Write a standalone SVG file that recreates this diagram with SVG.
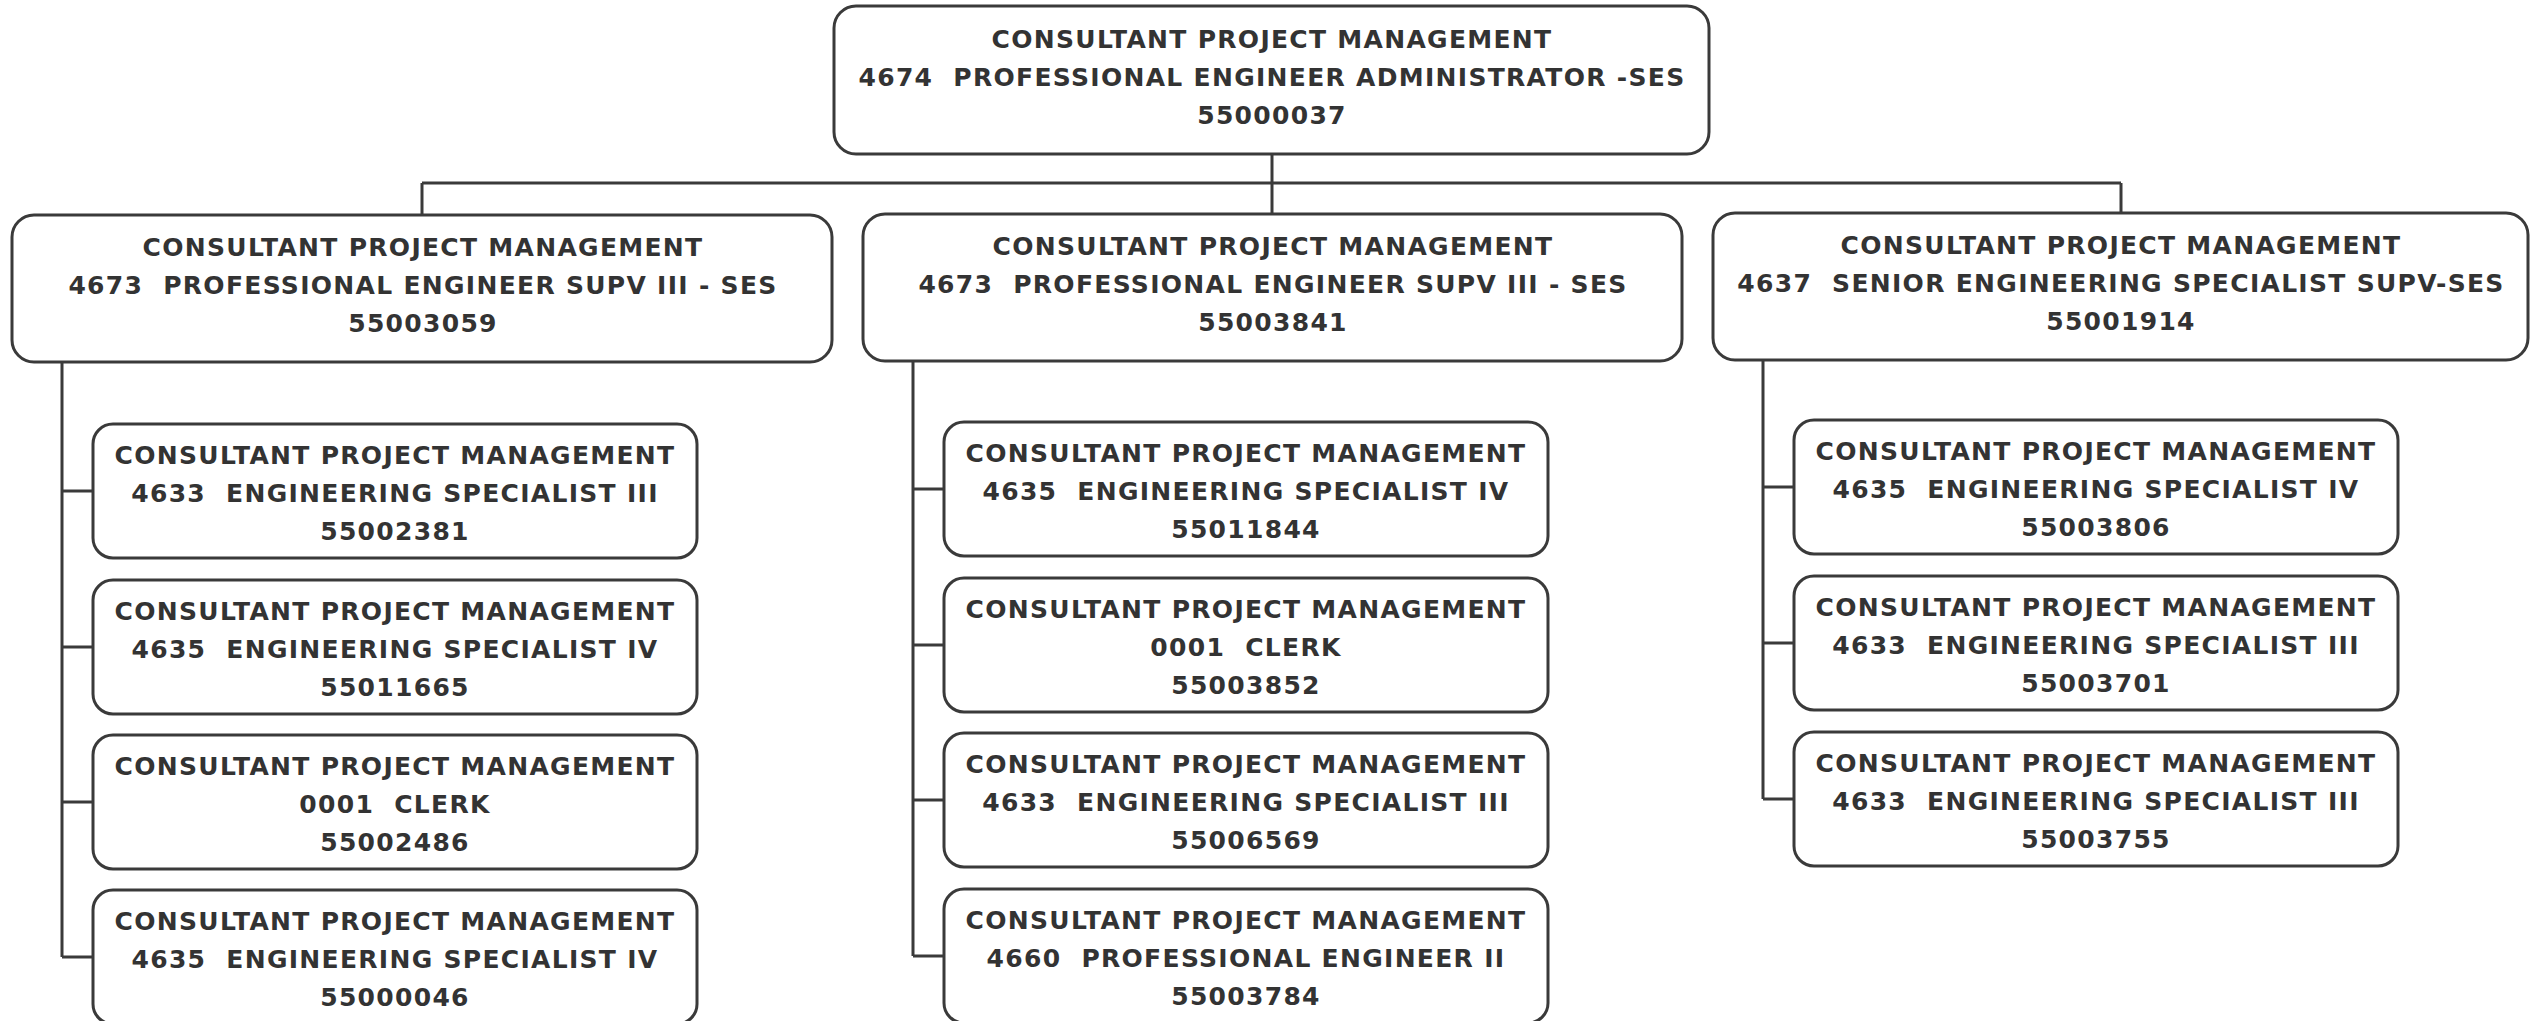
<svg xmlns="http://www.w3.org/2000/svg" width="2540" height="1021" viewBox="0 0 2540 1021">
  <style>
    .box { fill: #ffffff; stroke: #3a3a3a; stroke-width: 3; }
    .wire { fill: none; stroke: #3a3a3a; stroke-width: 3; }
    .t { font-family: "DejaVu Sans", Verdana, sans-serif; font-weight: bold; font-size: 25px; letter-spacing: 1.3px; fill: #333333; text-anchor: middle; white-space: pre; }
  </style>
  <rect width="2540" height="1021" fill="#ffffff"/>

  <!-- connectors -->
  <g id="connectors">
    <path class="wire" d="M1272 154 V214"/>
    <path class="wire" d="M422 183 H2121"/>
    <path class="wire" d="M422 183 V215"/>
    <path class="wire" d="M2121 183 V213"/>
    <!-- left branch -->
    <path class="wire" d="M62 362 V957"/>
    <path class="wire" d="M62 491 H93 M62 647 H93 M62 802 H93 M62 957 H93"/>
    <!-- middle branch -->
    <path class="wire" d="M913 361 V956"/>
    <path class="wire" d="M913 489 H944 M913 645 H944 M913 800 H944 M913 956 H944"/>
    <!-- right branch -->
    <path class="wire" d="M1763 360 V799"/>
    <path class="wire" d="M1763 487 H1794 M1763 643 H1794 M1763 799 H1794"/>
  </g>

  <!-- top level -->
  <g id="n55000037">
    <rect class="box" x="834" y="6" width="875" height="148" rx="22"/>
    <text class="t" x="1272" y="48">CONSULTANT PROJECT MANAGEMENT</text>
    <text class="t" x="1272" y="86">4674  PROFESSIONAL ENGINEER ADMINISTRATOR -SES</text>
    <text class="t" x="1272" y="124">55000037</text>
  </g>

  <!-- second level -->
  <g id="n55003059">
    <rect class="box" x="12" y="215" width="820" height="147" rx="22"/>
    <text class="t" x="423" y="256">CONSULTANT PROJECT MANAGEMENT</text>
    <text class="t" x="423" y="294">4673  PROFESSIONAL ENGINEER SUPV III - SES</text>
    <text class="t" x="423" y="332">55003059</text>
  </g>
  <g id="n55003841">
    <rect class="box" x="863" y="214" width="819" height="147" rx="22"/>
    <text class="t" x="1273" y="255">CONSULTANT PROJECT MANAGEMENT</text>
    <text class="t" x="1273" y="293">4673  PROFESSIONAL ENGINEER SUPV III - SES</text>
    <text class="t" x="1273" y="331">55003841</text>
  </g>
  <g id="n55001914">
    <rect class="box" x="1713" y="213" width="815" height="147" rx="22"/>
    <text class="t" x="2121" y="254">CONSULTANT PROJECT MANAGEMENT</text>
    <text class="t" x="2121" y="292">4637  SENIOR ENGINEERING SPECIALIST SUPV-SES</text>
    <text class="t" x="2121" y="330">55001914</text>
  </g>

  <!-- left branch staff -->
  <g id="n55002381">
    <rect class="box" x="93" y="424" width="604" height="134" rx="20"/>
    <text class="t" x="395" y="464">CONSULTANT PROJECT MANAGEMENT</text>
    <text class="t" x="395" y="502">4633  ENGINEERING SPECIALIST III</text>
    <text class="t" x="395" y="540">55002381</text>
  </g>
  <g id="n55011665">
    <rect class="box" x="93" y="580" width="604" height="134" rx="20"/>
    <text class="t" x="395" y="620">CONSULTANT PROJECT MANAGEMENT</text>
    <text class="t" x="395" y="658">4635  ENGINEERING SPECIALIST IV</text>
    <text class="t" x="395" y="696">55011665</text>
  </g>
  <g id="n55002486">
    <rect class="box" x="93" y="735" width="604" height="134" rx="20"/>
    <text class="t" x="395" y="775">CONSULTANT PROJECT MANAGEMENT</text>
    <text class="t" x="395" y="813">0001  CLERK</text>
    <text class="t" x="395" y="851">55002486</text>
  </g>
  <g id="n55000046">
    <rect class="box" x="93" y="890" width="604" height="134" rx="20"/>
    <text class="t" x="395" y="930">CONSULTANT PROJECT MANAGEMENT</text>
    <text class="t" x="395" y="968">4635  ENGINEERING SPECIALIST IV</text>
    <text class="t" x="395" y="1006">55000046</text>
  </g>

  <!-- middle branch staff -->
  <g id="n55011844">
    <rect class="box" x="944" y="422" width="604" height="134" rx="20"/>
    <text class="t" x="1246" y="462">CONSULTANT PROJECT MANAGEMENT</text>
    <text class="t" x="1246" y="500">4635  ENGINEERING SPECIALIST IV</text>
    <text class="t" x="1246" y="538">55011844</text>
  </g>
  <g id="n55003852">
    <rect class="box" x="944" y="578" width="604" height="134" rx="20"/>
    <text class="t" x="1246" y="618">CONSULTANT PROJECT MANAGEMENT</text>
    <text class="t" x="1246" y="656">0001  CLERK</text>
    <text class="t" x="1246" y="694">55003852</text>
  </g>
  <g id="n55006569">
    <rect class="box" x="944" y="733" width="604" height="134" rx="20"/>
    <text class="t" x="1246" y="773">CONSULTANT PROJECT MANAGEMENT</text>
    <text class="t" x="1246" y="811">4633  ENGINEERING SPECIALIST III</text>
    <text class="t" x="1246" y="849">55006569</text>
  </g>
  <g id="n55003784">
    <rect class="box" x="944" y="889" width="604" height="134" rx="20"/>
    <text class="t" x="1246" y="929">CONSULTANT PROJECT MANAGEMENT</text>
    <text class="t" x="1246" y="967">4660  PROFESSIONAL ENGINEER II</text>
    <text class="t" x="1246" y="1005">55003784</text>
  </g>

  <!-- right branch staff -->
  <g id="n55003806">
    <rect class="box" x="1794" y="420" width="604" height="134" rx="20"/>
    <text class="t" x="2096" y="460">CONSULTANT PROJECT MANAGEMENT</text>
    <text class="t" x="2096" y="498">4635  ENGINEERING SPECIALIST IV</text>
    <text class="t" x="2096" y="536">55003806</text>
  </g>
  <g id="n55003701">
    <rect class="box" x="1794" y="576" width="604" height="134" rx="20"/>
    <text class="t" x="2096" y="616">CONSULTANT PROJECT MANAGEMENT</text>
    <text class="t" x="2096" y="654">4633  ENGINEERING SPECIALIST III</text>
    <text class="t" x="2096" y="692">55003701</text>
  </g>
  <g id="n55003755">
    <rect class="box" x="1794" y="732" width="604" height="134" rx="20"/>
    <text class="t" x="2096" y="772">CONSULTANT PROJECT MANAGEMENT</text>
    <text class="t" x="2096" y="810">4633  ENGINEERING SPECIALIST III</text>
    <text class="t" x="2096" y="848">55003755</text>
  </g>
</svg>
